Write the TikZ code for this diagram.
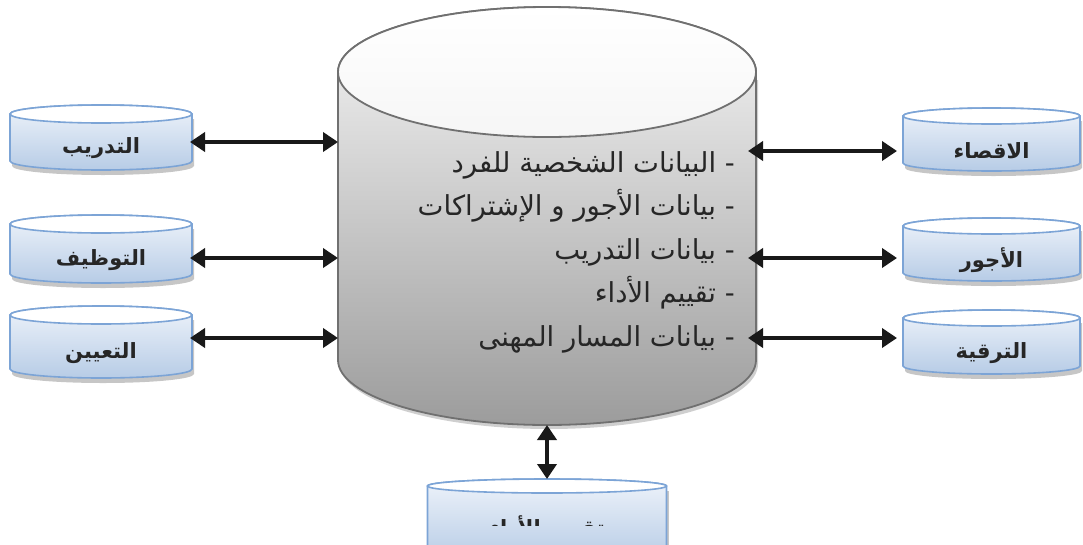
\documentclass[tikz,border=0pt]{standalone}
\usepackage{fontspec}
\newfontfamily\arabicfont[Script=Arabic]{DejaVu Sans}
\TeXXeTstate=1
\usetikzlibrary{arrows.meta,calc}

\definecolor{diskline}{HTML}{7CA4D6}
\definecolor{disktop}{HTML}{EEF3FA}
\definecolor{diskbot}{HTML}{B7CCE6}
\definecolor{shadowgray}{HTML}{A0A0A0}
\definecolor{mainline}{HTML}{707070}
\definecolor{maintop}{HTML}{F6F6F6}
\definecolor{mainbot}{HTML}{9C9C9C}

\tikzset{
  x=1pt, y=-1pt,
  diskbox/.style={inner sep=0pt, outer sep=0pt},
  disklabel/.style={inner sep=0pt, font=\arabicfont\bfseries\fontsize{21}{24}\selectfont, text=black!85},
  itemline/.style={inner sep=0pt, anchor=base east, font=\arabicfont\fontsize{27.5}{30}\selectfont, text=black!85},
  biarrow/.style={line width=4pt, black!90, {Triangle[length=15pt,width=19pt]}-{Triangle[length=15pt,width=19pt]}},
}

% small data store: name, centre x, x radius, top ellipse y, bottom ellipse y, y radius, label
\newcommand\smalldisk[7]{%
  \fill[shadowgray, opacity=.6]
    (#2-#3+2,#4+5) -- (#2-#3+2,#5+5) arc[start angle=180,end angle=360,x radius=#3pt,y radius=#6pt]
    -- (#2+#3+2,#4+5) -- cycle;
  \shadedraw[top color=disktop, bottom color=diskbot, draw=diskline, line width=1.6pt]
    (#2-#3,#4) -- (#2-#3,#5) arc[start angle=180,end angle=360,x radius=#3pt,y radius=#6pt]
    -- (#2+#3,#4) arc[start angle=0,end angle=180,x radius=#3pt,y radius=#6pt] -- cycle;
  \filldraw[fill=white, draw=diskline, line width=1.6pt] (#2,#4) ellipse[x radius=#3pt, y radius=#6pt];
  \node[diskbox, minimum width={2*#3*1pt}, minimum height={(#5-#4+2*#6)*1pt}] (#1) at (#2,{(#4+#5)/2}) {};
  \node[disklabel] (#1-t) at (#2,{(#4+#5)/2+11}) {\beginR #7\endR};
}

\begin{document}
\begin{tikzpicture}
\useasboundingbox (0,0) rectangle (1083,544);

% central store
\fill[shadowgray, opacity=.5]
  (340,80) -- (340,364) arc[start angle=180,end angle=360,x radius=209pt,y radius=65pt] -- (758,80) -- cycle;
\shadedraw[top color=maintop, bottom color=mainbot, draw=mainline, line width=1.8pt]
  (338,72) -- (338,360) arc[start angle=180,end angle=360,x radius=209pt,y radius=65pt]
  -- (756,72) arc[start angle=0,end angle=180,x radius=209pt,y radius=65pt] -- cycle;
\shadedraw[top color=white, bottom color=maintop, draw=mainline, line width=1.8pt]
  (547,72) ellipse[x radius=209pt, y radius=65pt];
\node[diskbox, minimum width=418pt, minimum height=418pt] (main) at (547,216) {};

\node[itemline] (item1) at (735,172) {\beginR - البيانات الشخصية للفرد\endR};
\node[itemline] (item2) at (735,215.5) {\beginR - بيانات الأجور و الإشتراكات\endR};
\node[itemline] (item3) at (735,259) {\beginR - بيانات التدريب\endR};
\node[itemline] (item4) at (735,302.5) {\beginR - تقييم الأداء\endR};
\node[itemline] (item5) at (735,346) {\beginR - بيانات المسار المهنى\endR};

% surrounding stores
\smalldisk{tadrib}{101}{91}{114}{161}{9}{التدريب}
\smalldisk{tawzif}{101}{91}{224}{274}{9}{التوظيف}
\smalldisk{taayin}{101}{91}{315}{369}{9}{التعيين}
\smalldisk{iqsa}{991.5}{88.5}{116}{163}{8}{الاقصاء}
\smalldisk{ujur}{991.5}{88.5}{226}{273}{8}{الأجور}
\smalldisk{tarqia}{991.5}{88.5}{318}{366}{8}{الترقية}

% bottom store, its label cut off by the frame of the box
\begin{scope}
  \fill[shadowgray, opacity=.6] (430,491) rectangle (669,560);
  \shadedraw[top color=disktop, bottom color=diskbot, draw=diskline, line width=1.6pt]
    (427.5,486) -- (427.5,560) -- (666.5,560) -- (666.5,486) arc[start angle=0,end angle=180,x radius=119.5pt,y radius=7pt] -- cycle;
  \filldraw[fill=white, draw=diskline, line width=1.6pt] (547,486) ellipse[x radius=119.5pt, y radius=7pt];
  \node[diskbox, minimum width=239pt, minimum height=70pt] (taqyim) at (547,514) {};
  \begin{scope}
    \clip (428,493) rectangle (667,525);
    \node[disklabel] (taqyim-t) at (547,528) {\beginR تقييم الأداء\endR};
  \end{scope}
\end{scope}

% row levels of the links
\coordinate (rowL1) at (0,142);
\coordinate (rowL2) at (0,258);
\coordinate (rowL3) at (0,338);
\coordinate (rowR1) at (0,151);
\coordinate (rowR2) at (0,258);
\coordinate (rowR3) at (0,338);

\draw[biarrow, shorten <=-2pt] (tadrib.east |- rowL1) -- (main.west |- rowL1);
\draw[biarrow, shorten <=-2pt] (tawzif.east |- rowL2) -- (main.west |- rowL2);
\draw[biarrow, shorten <=-2pt] (taayin.east |- rowL3) -- (main.west |- rowL3);
\draw[biarrow, shorten <=-8pt, shorten >=6pt] (main.east |- rowR1) -- (iqsa.west |- rowR1);
\draw[biarrow, shorten <=-8pt, shorten >=6pt] (main.east |- rowR2) -- (ujur.west |- rowR2);
\draw[biarrow, shorten <=-8pt, shorten >=6pt] (main.east |- rowR3) -- (tarqia.west |- rowR3);
\draw[biarrow] (main.south) -- (taqyim.north);
\end{tikzpicture}
\end{document}
